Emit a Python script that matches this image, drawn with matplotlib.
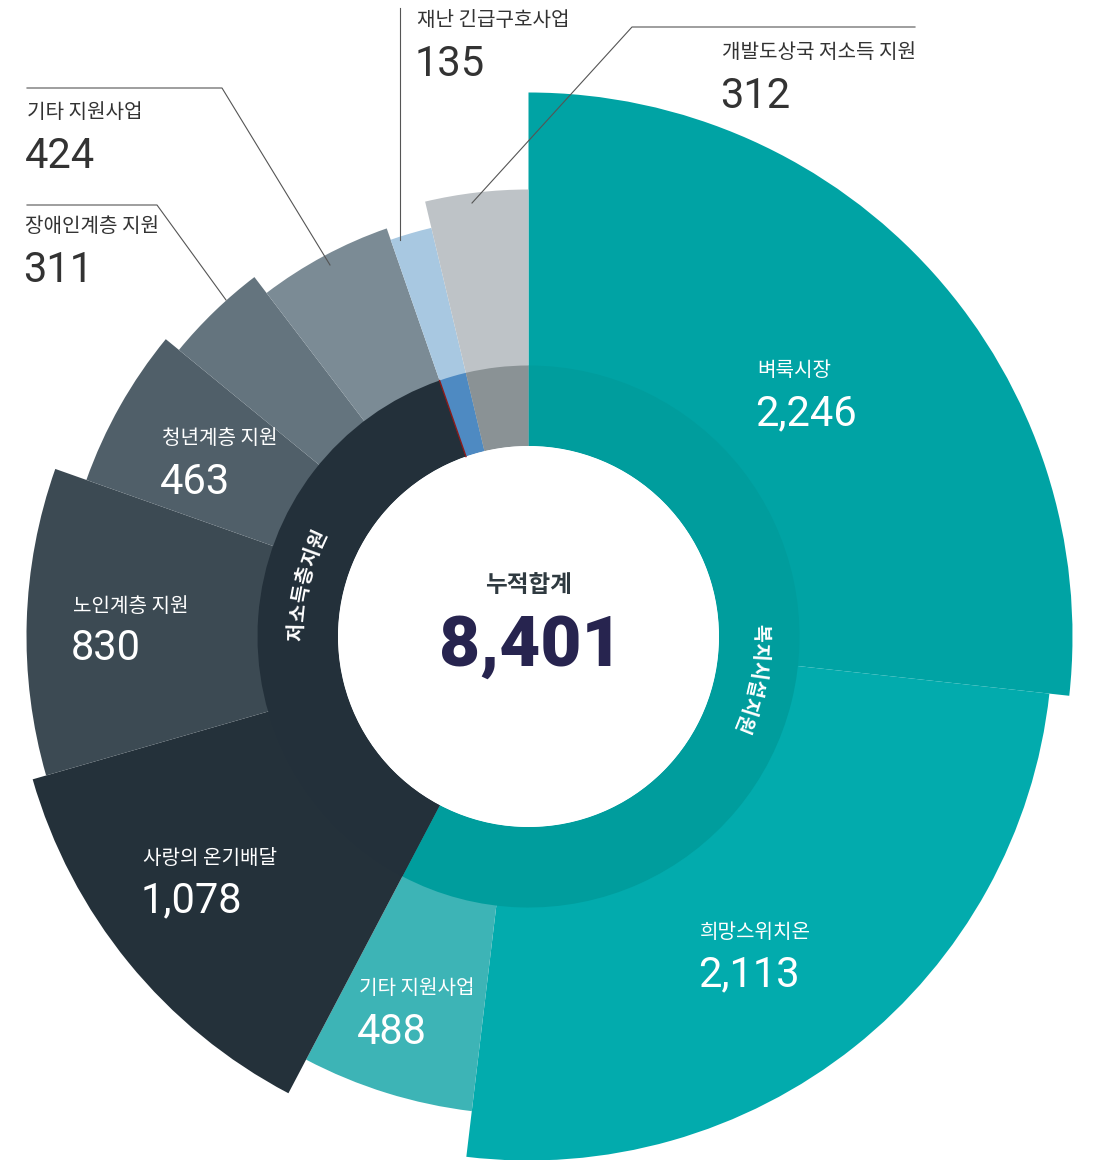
import matplotlib.pyplot as plt
from matplotlib.patches import Wedge, Circle
import numpy as np

# 세부 사업 (바깥 고리)
names = ['벼룩시장', '희망스위치온', '기타 지원사업', '사랑의 온기배달', '노인계층 지원',
         '청년계층 지원', '장애인계층 지원', '기타 지원사업', '재난 긴급구호사업', '개발도상국 저소득 지원']
values = [2246, 2113, 488, 1078, 830, 463, 311, 424, 135, 312]
value_labels = ['2,246', '2,113', '488', '1,078', '830', '463', '311', '424', '135', '312']

# 분야 (안쪽 고리)
group_names = ['복지시설지원', '저소득층지원', '재난 긴급구호사업', '개발도상국 저소득 지원']
group_of = [0, 0, 0, 1, 1, 1, 1, 1, 2, 3]
total_title = '누적합계'
total_label = '8,401'

# 스타일
outer_colors = ['#00A3A4', '#02ABAD', '#3DB4B6', '#24313A', '#3C4A53',
                '#505F69', '#64747E', '#7B8B95', '#A8C8E1', '#BEC3C7']
outer_radius = [544, 524, 478, 516, 502, 469, 452, 432, 420, 447]
group_colors = ['#009D9D', '#23303A', '#4E8AC2', '#8A9295']

cx, cy = 528.5, 636.5
r_hole, r_ring = 190.5, 271

# 라벨 위치 (픽셀, 이름 기준), inside=True 면 흰 글씨
label_pos = [(757, 371, True), (700, 932, True), (359, 989, True), (143, 858, True),
             (73, 606, True), (162, 439, True), (25, 227, False), (27, 113, False),
             (417, 21, False), (722, 53, False)]
leaders = {6: [(27, 205), (157, 205), (226, 300)],
           7: [(27, 88), (222, 88), (330, 265)],
           8: [(400, 8), (400, 240)],
           9: [(915, 27), (632, 27), (472, 203)]}

kr = ['Noto Sans CJK KR', 'DejaVu Sans']
num = ['Roboto', 'Noto Sans CJK KR']

fig = plt.figure(figsize=(11.09, 11.6), dpi=100)
ax = fig.add_axes([0, 0, 1, 1])
ax.set_xlim(0, 1109)
ax.set_ylim(1160, 0)
ax.axis('off')

total = sum(values)
ang = np.cumsum([0] + values) / total * 360

# 바깥 고리
for i in range(len(values)):
    ax.add_patch(Wedge((cx, cy), outer_radius[i], ang[i] - 90, ang[i + 1] - 90,
                       width=outer_radius[i] - r_hole, facecolor=outer_colors[i],
                       edgecolor='none'))

# 안쪽 고리
for g in range(len(group_names)):
    idx = [i for i in range(len(values)) if group_of[i] == g]
    a0, a1 = ang[idx[0]], ang[idx[-1] + 1]
    ax.add_patch(Wedge((cx, cy), r_ring, a0 - 90, a1 - 90, width=r_ring - r_hole,
                       facecolor=group_colors[g], edgecolor='none'))

# 저소득층 / 재난 경계의 붉은 선
a = np.radians(ang[8])
ax.plot([cx + r_hole * np.sin(a), cx + r_ring * np.sin(a)],
        [cy - r_hole * np.cos(a), cy - r_ring * np.cos(a)], color='#8B1A1A', lw=1)

ax.add_patch(Circle((cx, cy), r_hole, facecolor='white', edgecolor='none'))

# 고리 위 글자 (원호를 따라)
def arc_text(text, mid, step, r=231):
    n = len(text)
    for k, ch in enumerate(text):
        t = mid + (k - (n - 1) / 2) * step
        tr = np.radians(t)
        ax.text(cx + r * np.sin(tr), cy - r * np.cos(tr), ch, rotation=-t,
                rotation_mode='anchor', ha='center', va='center', fontsize=14,
                fontweight='bold', color='white', family=kr)

arc_text(group_names[0], 100.5, 4.6)
arc_text(group_names[1], 283, 4.7)

# 라벨
for i in range(len(values)):
    x, y, inside = label_pos[i]
    c = 'white' if inside else '#333333'
    ax.text(x, y, names[i], ha='left', va='center', fontsize=14.5, color=c, family=kr)
    ax.text(x - 2, y + 43, value_labels[i], ha='left', va='center', fontsize=30,
            color=c, family=num, fontweight='normal')

for i, pts in leaders.items():
    xs, ys = zip(*pts)
    ax.plot(xs, ys, color='#555555', lw=0.8)

# 중앙 합계
ax.text(cx, 585, total_title, ha='center', va='center', fontsize=17,
        fontweight='bold', color='#2F3A40', family=kr)
ax.text(cx + 2, 646, total_label, ha='center', va='center', fontsize=51,
        fontweight='heavy', color='#27244F', family=num)

fig.savefig('out.png', dpi=100)
